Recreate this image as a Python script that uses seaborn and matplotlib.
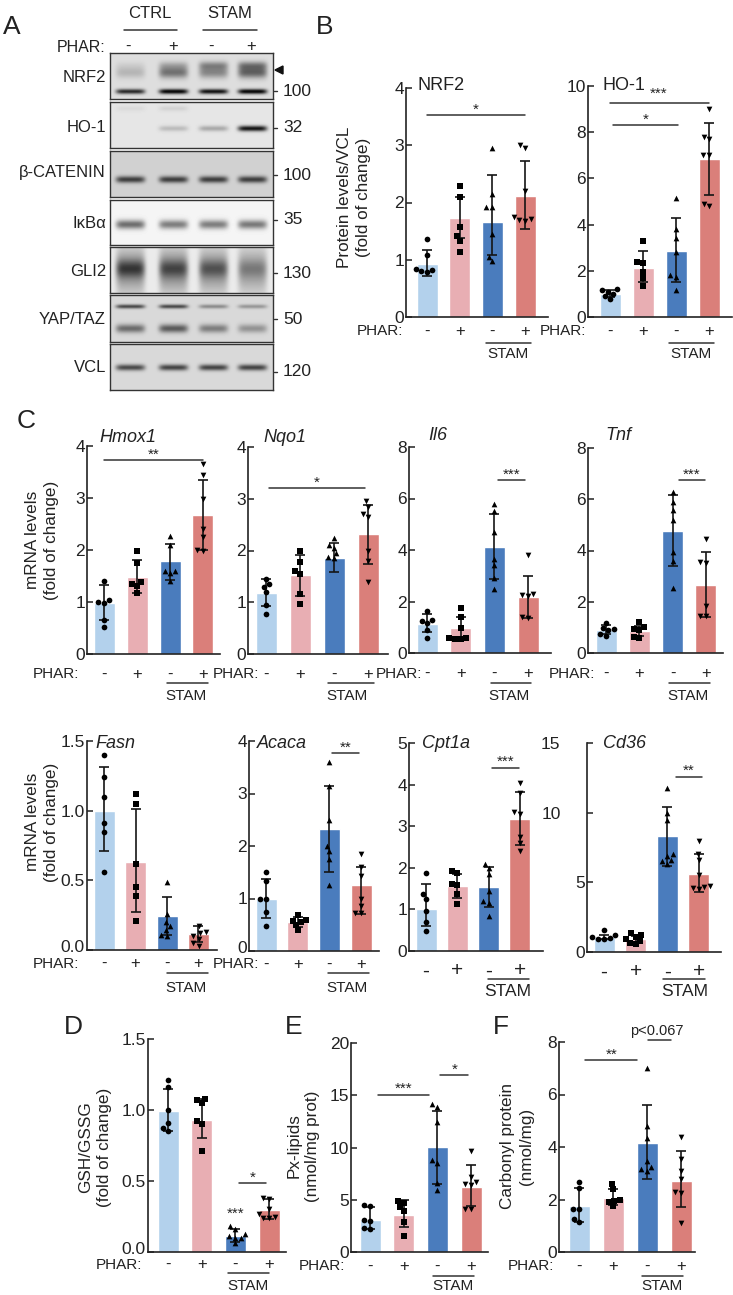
import warnings

import numpy as np
import pandas as pd
import matplotlib
matplotlib.use("Agg")
import matplotlib.pyplot as plt
from matplotlib.transforms import ScaledTranslation
import seaborn as sns

warnings.filterwarnings("ignore", category=UserWarning)
warnings.filterwarnings("ignore", category=FutureWarning)

sns.set_style("white")
plt.rcParams["font.family"] = ["Liberation Sans", "DejaVu Sans"]

W, H = 733, 1295

groups = ["ctrl", "ctrl_phar", "stam", "stam_phar"]
phar_labels = ["-", "+", "-", "+"]
bar_colors = ["#B3D1EC", "#E8AEB3", "#4A7CBD", "#DA7F7A"]
markers = ["o", "s", "^", "v"]

# ─── panel B ─────────────────────────────────────────
nrf2_bars = [0.93, 1.73, 1.66, 2.12]
nrf2_low = [0.72, 1.38, 1.09, 1.54]
nrf2_high = [1.17, 2.10, 2.48, 2.72]
nrf2_pts = [[1.36, 1.08, 0.84, 0.82, 0.80, 0.78],
            [2.29, 2.10, 1.57, 1.41, 1.33, 1.13],
            [2.95, 2.15, 1.92, 1.92, 1.45, 1.05, 0.97],
            [3.00, 2.95, 2.20, 1.75, 1.72, 1.70, 1.68]]

ho1_bars = [1.00, 2.13, 2.87, 6.85]
ho1_low = [0.85, 1.50, 1.50, 5.30]
ho1_high = [1.15, 2.87, 4.28, 8.40]
ho1_pts = [[1.20, 1.15, 1.10, 1.00, 0.90, 0.80],
           [3.30, 2.35, 2.40, 1.95, 1.70, 1.35],
           [5.15, 3.80, 3.40, 2.80, 1.80, 1.75, 1.15],
           [9.00, 7.80, 7.70, 7.00, 7.00, 4.80, 4.90]]

# ─── panel C, top row ────────────────────────────────
hmox1_bars = [0.98, 1.49, 1.78, 2.67]
hmox1_low = [0.65, 1.18, 1.42, 2.00]
hmox1_high = [1.32, 1.80, 2.12, 3.35]
hmox1_pts = [[1.40, 1.03, 1.00, 0.98, 0.66, 0.52],
             [1.98, 1.75, 1.38, 1.35, 1.30, 1.18],
             [2.27, 2.10, 1.60, 1.60, 1.55, 1.40],
             [3.65, 3.45, 2.98, 2.40, 2.25, 2.00, 1.98]]

nqo1_bars = [1.18, 1.52, 1.86, 2.32]
nqo1_low = [0.93, 1.13, 1.58, 1.74]
nqo1_high = [1.45, 1.92, 2.14, 2.88]
nqo1_pts = [[1.45, 1.35, 1.30, 1.20, 0.95, 0.78],
            [2.00, 1.77, 1.60, 1.55, 1.15, 0.97],
            [2.25, 2.10, 2.05, 1.95, 1.87, 1.85],
            [2.95, 2.85, 2.70, 2.65, 2.00, 1.80, 1.40]]

il6_bars = [1.13, 0.96, 4.13, 2.17]
il6_low = [0.80, 0.55, 2.87, 1.35]
il6_high = [1.50, 1.40, 5.40, 3.00]
il6_pts = [[1.63, 1.27, 1.25, 1.15, 0.90, 0.58],
           [1.75, 1.40, 0.97, 0.60, 0.57, 0.55, 0.55],
           [5.80, 5.50, 4.70, 3.65, 3.40, 2.90, 2.50],
           [3.80, 2.30, 2.25, 2.20, 1.40, 1.35]]

tnf_bars = [0.90, 0.85, 4.75, 2.65]
tnf_low = [0.75, 0.65, 3.40, 1.40]
tnf_high = [1.08, 1.05, 6.15, 3.95]
tnf_pts = [[1.17, 0.98, 0.95, 0.88, 0.75, 0.67],
           [1.20, 1.00, 0.95, 0.90, 0.62, 0.60],
           [6.30, 5.90, 5.60, 5.20, 3.95, 3.60, 2.55],
           [4.45, 3.55, 3.50, 1.85, 1.45, 1.45]]

# ─── panel C, bottom row ─────────────────────────────
fasn_bars = [1.00, 0.635, 0.245, 0.115]
fasn_low = [0.71, 0.27, 0.11, 0.06]
fasn_high = [1.31, 1.01, 0.38, 0.17]
fasn_pts = [[1.40, 1.24, 1.10, 0.91, 0.85, 0.56],
            [1.12, 1.05, 0.62, 0.45, 0.39, 0.21],
            [0.49, 0.26, 0.20, 0.17, 0.14, 0.11, 0.10],
            [0.17, 0.13, 0.12, 0.10, 0.08, 0.05, 0.03]]

acaca_bars = [1.00, 0.56, 2.33, 1.25]
acaca_low = [0.62, 0.45, 1.50, 0.70]
acaca_high = [1.37, 0.65, 3.15, 1.60]
acaca_pts = [[1.50, 1.33, 1.00, 1.00, 0.75, 0.47],
             [0.68, 0.60, 0.58, 0.56, 0.50, 0.40],
             [3.60, 3.15, 2.50, 2.00, 1.90, 1.75, 1.25],
             [1.85, 1.60, 1.42, 1.00, 0.85, 0.72, 0.72]]

cpt1a_bars = [1.00, 1.56, 1.53, 3.18]
cpt1a_low = [0.60, 1.27, 1.05, 2.55]
cpt1a_high = [1.60, 1.85, 2.03, 3.82]
cpt1a_pts = [[1.87, 1.37, 1.25, 0.96, 0.70, 0.47],
             [1.92, 1.88, 1.60, 1.58, 1.37, 1.12],
             [2.10, 2.00, 1.85, 1.45, 1.20, 1.15, 0.85],
             [4.05, 3.80, 3.35, 3.30, 2.75, 2.60, 2.40]]

cd36_bars = [1.05, 0.95, 8.30, 5.60]
cd36_low = [0.90, 0.75, 6.15, 4.30]
cd36_high = [1.20, 1.15, 10.40, 7.00]
cd36_pts = [[1.55, 1.20, 1.05, 1.00, 0.95, 0.90],
            [1.35, 1.20, 1.10, 0.95, 0.80, 0.65, 0.60],
            [11.80, 10.00, 9.50, 7.00, 6.90, 6.60, 6.50, 6.30],
            [7.95, 7.00, 6.60, 5.50, 4.75, 4.70, 4.60, 4.50]]

# ─── panels D, E, F ──────────────────────────────────
gsh_bars = [0.99, 0.93, 0.11, 0.295]
gsh_low = [0.85, 0.80, 0.07, 0.23]
gsh_high = [1.15, 1.08, 0.16, 0.37]
gsh_pts = [[1.21, 1.16, 1.00, 0.91, 0.87, 0.85],
           [1.08, 1.07, 1.05, 0.92, 0.90, 0.71],
           [0.18, 0.16, 0.13, 0.11, 0.10, 0.10, 0.06],
           [0.38, 0.37, 0.30, 0.27, 0.25, 0.24, 0.24]]

px_bars = [3.10, 3.50, 10.05, 6.25]
px_low = [2.20, 2.40, 6.50, 4.40]
px_high = [4.30, 5.00, 13.50, 8.30]
px_pts = [[4.50, 4.40, 3.10, 3.00, 2.30, 2.20],
          [4.90, 4.70, 4.30, 3.90, 2.90, 1.55],
          [14.20, 13.90, 12.40, 8.80, 8.50, 6.60, 5.90],
          [9.70, 7.20, 6.70, 6.50, 6.40, 4.10, 4.10]]

carb_bars = [1.75, 2.05, 4.15, 2.70]
carb_low = [1.15, 1.80, 2.80, 1.70]
carb_high = [2.45, 2.40, 5.60, 3.83]
carb_pts = [[2.67, 2.45, 1.65, 1.62, 1.25, 1.15],
            [2.60, 2.40, 2.00, 1.95, 1.90, 1.75],
            [7.00, 4.80, 4.35, 3.45, 3.25, 3.15, 3.10],
            [4.40, 3.55, 3.10, 2.80, 2.30, 2.25, 1.10]]

# ─── panel A, band strengths per lane ────────────────
blot_names = ["NRF2", "HO-1", "β-CATENIN", "IκBα", "GLI2", "YAP/TAZ", "VCL"]
blot_sizes = ["100", "32", "100", "35", "130", "50", "120"]
blot_bg = [0.87, 0.90, 0.82, 0.96, 0.92, 0.85, 0.85]
nrf2_blot = [[0.05, 0.20, 0.35, 0.40], [0.18, 0.48, 0.38, 0.55], [0.80, 0.97, 0.90, 0.98]]
ho1_blot = [[0.05, 0.08, 0.00, 0.00], [0.00, 0.18, 0.26, 0.90]]
bcat_blot = [[0.70, 0.70, 0.70, 0.70]]
ikba_blot = [[0.55, 0.48, 0.48, 0.50]]
gli2_blot = [[0.40, 0.42, 0.38, 0.34], [0.38, 0.30, 0.28, 0.15]]
yap_blot = [[0.65, 0.65, 0.35, 0.30], [0.50, 0.58, 0.42, 0.32]]
vcl_blot = [[0.65, 0.68, 0.68, 0.68]]

fig = plt.figure(figsize=(W / 100, H / 100), dpi=100)


def make_ax(left, right, y0, ytop):
    return fig.add_axes([left / W, 1 - y0 / H, (right - left) / W, (y0 - ytop) / H])


def draw_panel(bars, low, high, pts, left, right, y0, ytop, c0, step, ymax, ticks,
               ticklabels=None, sig=(), tick_size=12, x_pad=5):
    ax = make_ax(left, right, y0, ytop)
    df = pd.DataFrame({"group": groups, "value": bars})
    sns.barplot(data=df, x="group", y="value", hue="group", order=groups, hue_order=groups,
                palette=bar_colors, saturation=1, width=21 / step, errorbar=None,
                legend=False, ax=ax, zorder=1)
    for i in range(4):
        ax.errorbar(i, bars[i], yerr=[[bars[i] - low[i]], [high[i] - bars[i]]], color="#151515",
                    elinewidth=1.2, capsize=3.9, capthick=1.2, zorder=2)
        sub = pd.DataFrame({"group": groups[i], "value": pts[i]})
        sns.swarmplot(data=sub, x="group", y="value", order=groups, color="black",
                      marker=markers[i], size=4.1 if i != 1 else 3.9, linewidth=0,
                      ax=ax, zorder=3)
    ax.set_xlim((left - c0) / step, (right - c0) / step)
    ax.set_ylim(0, ymax)
    ax.set_yticks(ticks)
    ax.set_yticklabels(ticklabels if ticklabels else [str(t) for t in ticks])
    ax.set_xticks(range(4))
    ax.set_xticklabels(phar_labels)
    ax.set_xlabel("")
    ax.set_ylabel("")
    ax.tick_params(axis="y", direction="in", length=4, width=1.1, pad=1.5, left=True,
                   labelsize=12.5, colors="#222222")
    ax.tick_params(axis="x", length=0, pad=x_pad, labelsize=tick_size, colors="#222222")
    sns.despine(ax=ax)
    for s in ["left", "bottom"]:
        ax.spines[s].set_linewidth(1.2)
        ax.spines[s].set_color("#222222")
    ax.patch.set_alpha(0)
    for x0, x1, y, label in sig:
        ax.plot([x0, x1], [y, y], color="#333333", lw=1.1, clip_on=False, zorder=4)
        ax.annotate(label, ((x0 + x1) / 2, y), xytext=(0, -1), textcoords="offset points",
                    ha="center", va="bottom", fontsize=11, color="#222222", annotation_clip=False)
    return ax


def lift_zero(ax):
    # the 0 label sits a little above the axis, clear of the PHAR: text
    lab = ax.get_yticklabels()[0]
    lab.set_transform(lab.get_transform() + ScaledTranslation(0, 0.04, fig.dpi_scale_trans))


draw_panel(nrf2_bars, nrf2_low, nrf2_high, nrf2_pts, 406, 548, 317, 88, 427, 32.7, 4, [0, 1, 2, 3, 4],
           sig=[(0, 3, 3.53, "*")])
ho1_ax = draw_panel(ho1_bars, ho1_low, ho1_high, ho1_pts, 588, 732, 317, 86, 610, 33, 10, [0, 2, 4, 6, 8, 10],
                    sig=[(0.1, 2.05, 8.3, "*")])
ho1_ax.plot([0, 3], [9.28, 9.28], color="#333333", lw=1.1, clip_on=False)
ho1_ax.annotate("***", (1.48, 9.28), xytext=(0, 1), textcoords="offset points", ha="center", va="bottom",
                fontsize=11, annotation_clip=False)

draw_panel(hmox1_bars, hmox1_low, hmox1_high, hmox1_pts, 87, 220, 654, 446, 104, 33, 4, [0, 1, 2, 3, 4],
           sig=[(0, 3, 3.73, "**")], x_pad=9.5)
draw_panel(nqo1_bars, nqo1_low, nqo1_high, nqo1_pts, 248, 388, 654, 447, 266, 34, 4, [0, 1, 2, 3, 4],
           sig=[(0.1, 2.9, 3.2, "*")], x_pad=9.5)
draw_panel(il6_bars, il6_low, il6_high, il6_pts, 409, 551, 653, 447, 427, 33.7, 8, [0, 2, 4, 6, 8],
           sig=[(2.1, 2.9, 6.72, "***")], x_pad=9.5)
draw_panel(tnf_bars, tnf_low, tnf_high, tnf_pts, 588, 723, 653, 448, 606, 33.3, 8, [0, 2, 4, 6, 8],
           sig=[(2.18, 2.98, 6.74, "***")], x_pad=9.5)

fasn_ax = draw_panel(fasn_bars, fasn_low, fasn_high, fasn_pts, 87, 217, 950, 741, 104, 31.5, 1.5, [0, 0.5, 1, 1.5],
                     ticklabels=["0.0", "0.5", "1.0", "1.5"], x_pad=4.5)
acaca_ax = draw_panel(acaca_bars, acaca_low, acaca_high, acaca_pts, 249, 379, 951, 741, 266, 31.7, 4, [0, 1, 2, 3, 4],
                      sig=[(2.07, 2.93, 3.77, "**")], x_pad=4.5)
draw_panel(cpt1a_bars, cpt1a_low, cpt1a_high, cpt1a_pts, 409, 543, 951, 743, 426, 31.3, 5, [0, 1, 2, 3, 4, 5],
           sig=[(2.1, 2.98, 4.41, "***")], tick_size=15, x_pad=7.5)
cd36_ax = draw_panel(cd36_bars, cd36_low, cd36_high, cd36_pts, 587, 721, 952, 743, 604, 31.6, 15, [0, 5, 10, 15],
                     sig=[(2.27, 3.1, 12.57, "**")], tick_size=15, x_pad=7.5)
# the two upper labels of this axis sit far to the left in the original
for t in cd36_ax.yaxis.get_major_ticks()[2:]:
    t.set_pad(19)

gsh_ax = draw_panel(gsh_bars, gsh_low, gsh_high, gsh_pts, 148, 286, 1252, 1039, 168, 33.7, 1.5, [0, 0.5, 1, 1.5],
                    ticklabels=["0.0", "0.5", "1.0", "1.5"], sig=[(2.1, 2.9, 0.486, "*")], x_pad=3.7)
gsh_ax.annotate("***", (2, 0.22), ha="center", va="bottom", fontsize=11)
draw_panel(px_bars, px_low, px_high, px_pts, 351, 488, 1252, 1043, 370, 33.7, 20, [0, 5, 10, 15, 20],
           sig=[(0.25, 1.75, 15.05, "***"), (2.09, 2.92, 16.9, "*")])
carb_ax = draw_panel(carb_bars, carb_low, carb_high, carb_pts, 559, 695, 1252, 1042, 579, 34, 8, [0, 2, 4, 6, 8],
                     sig=[(0.18, 1.72, 7.3, "**")])
carb_ax.plot([2.03, 2.7], [8.09, 8.09], color="#333333", lw=1.1, clip_on=False)
carb_ax.annotate("p<0.067", (2.3, 8.09), xytext=(0, 1), textcoords="offset points", ha="center", va="bottom",
                 fontsize=10.5, annotation_clip=False, color="#222222")

for a in [fasn_ax, acaca_ax, gsh_ax]:
    lift_zero(a)

# ─── panel A blots ───────────────────────────────────
blot_tops = [53, 102, 151, 200, 247, 295, 344]
blot_bottoms = [99, 148, 197, 245, 293, 342, 390]
blot_bands = [nrf2_blot, ho1_blot, bcat_blot, ikba_blot, gli2_blot, yap_blot, vcl_blot]
band_rows = [[12, 19, 38], [6, 26], [28], [24], [23, 21], [11, 33], [23]]
band_sigma = [[3, 4, 1.8], [2, 2], [2.4], [3.2], [16, 6], [1.5, 3], [2.2]]
lane_x = [20, 63, 103, 142]
blot_left, blot_right = 110, 273

for k in range(7):
    ax = make_ax(blot_left, blot_right, blot_bottoms[k], blot_tops[k])
    yy, xx = np.mgrid[0:blot_bottoms[k] - blot_tops[k], 0:blot_right - blot_left]
    dark = np.zeros(yy.shape)
    for strengths, row, sigma in zip(blot_bands[k], band_rows[k], band_sigma[k]):
        for lane, s in zip(lane_x, strengths):
            shape_x = np.exp(-((xx - lane) / 14.5) ** 6)
            dark += s * shape_x * np.exp(-((yy - row) / sigma) ** 2 / 2)
    img = blot_bg[k] * (1 - np.clip(dark, 0, 0.95))
    ax.imshow(img, cmap="gray", vmin=0, vmax=1, aspect="auto", interpolation="bilinear")
    ax.set_xticks([])
    ax.set_yticks([])
    for s in ax.spines.values():
        s.set_visible(True)
        s.set_color("#333333")
        s.set_linewidth(1.0)

# ─── labels in page pixels ───────────────────────────
ov = fig.add_axes([0, 0, 1, 1])
ov.set_xlim(0, W)
ov.set_ylim(H, 0)
ov.axis("off")
ov.patch.set_alpha(0)
TXT = "#222222"


def label(x, y, s, size=11.5, ha="center", **kw):
    ov.text(x, y, s, fontsize=size, ha=ha, va="center", color=TXT, **kw)


def hline(x0, x1, y):
    ov.plot([x0, x1], [y, y], color="#333333", lw=1.1)


for s, x, y in [("A", 3, 27), ("B", 316, 27), ("C", 17, 421), ("D", 64, 1027), ("E", 285, 1027), ("F", 493, 1027)]:
    label(x, y, s, size=19, ha="left")

# blot header
label(150, 14, "CTRL", size=12)
label(230, 14, "STAM", size=12)
hline(124, 177, 30)
hline(203, 257, 30)
label(106, 47, "PHAR:", size=11.5, ha="right")
for x, s in zip([128, 173, 211, 251], phar_labels):
    label(x, 46, s, size=12)

name_y = [78, 128, 173, 224, 272, 319, 368]
size_y = [91, 128, 175, 220, 273, 319, 372]
for name, ny, mw, sy in zip(blot_names, name_y, blot_sizes, size_y):
    label(106, ny, name, size=12, ha="right")
    label(283, sy, mw, size=12.5, ha="left")
    ov.plot([274, 277], [sy, sy], color="#333333", lw=1)
ov.fill([275, 283, 283], [70, 66, 74], color="#111111")

# gene titles
for s, x, y, st in [("NRF2", 441, 86, "normal"), ("HO-1", 624, 85, "normal"),
                    ("Hmox1", 128, 437, "italic"), ("Nqo1", 285, 437, "italic"),
                    ("Il6", 438, 436, "italic"), ("Tnf", 618, 436, "italic"),
                    ("Fasn", 115, 743, "italic"), ("Acaca", 282, 743, "italic"),
                    ("Cpt1a", 446, 743, "italic"), ("Cd36", 624, 743, "italic")]:
    label(x, y, s, size=13, style=st)

# y labels
for s, x, y in [("Protein levels/VCL\n(fold of change)", 354, 197),
                ("mRNA levels\n(fold of change)", 42, 540),
                ("mRNA levels\n(fold of change)", 42, 822),
                ("GSH/GSSG\n(fold of change)", 95, 1147),
                ("Px-lipids\n(nmol/mg prot)", 303, 1146),
                ("Carbonyl protein\n(nmol/mg)", 517, 1146)]:
    label(x, y, s, size=12.3, rotation=90, linespacing=1.3)

# PHAR: and STAM under each panel
for px_x, py in [(357, 331), (540, 331), (33, 674), (213, 674), (376, 674), (549, 674),
                 (33, 964), (213, 964), (96, 1265), (299, 1266), (508, 1266)]:
    label(px_x, py, "PHAR:", size=11, ha="left")

for x0, x1, ly, tx, ty in [(486, 531, 343, 508, 354), (669, 714, 343, 691, 354),
                           (167, 208, 683, 186, 696), (328, 374, 683, 347, 696),
                           (491, 531, 683, 509, 696), (669, 710, 683, 688, 696),
                           (167, 208, 973, 186, 988), (328, 369, 973, 347, 988),
                           (228, 269, 1273, 248, 1286), (433, 474, 1276, 453, 1286),
                           (642, 683, 1276, 662, 1286)]:
    hline(x0, x1, ly)
    label(tx, ty, "STAM", size=11)
for x0, x1, tx in [(488, 529, 508), (663, 705, 685)]:
    hline(x0, x1, 979)
    label(tx, 991, "STAM", size=12.5)

fig.savefig("out.png", dpi=100)
